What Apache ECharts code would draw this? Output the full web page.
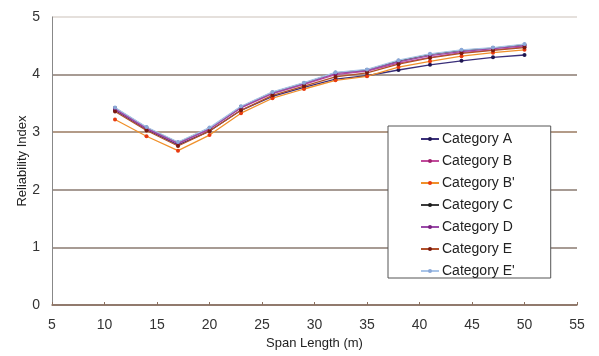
<!DOCTYPE html>
<html><head><meta charset="utf-8">
<script src="https://cdn.jsdelivr.net/npm/echarts@6/dist/echarts.min.js"></script>
<style>html,body{margin:0;padding:0;background:#fff}#c{width:599px;height:356px}</style>
</head><body><div id="c"></div>
<script>
const spans = [11, 14, 17, 20, 23, 26, 29, 32, 35, 38, 41, 44, 47, 50];
const seriesNames = ['Category A', 'Category B', "Category B'", 'Category C', 'Category D', 'Category E', "Category E'"];
const catA  = [3.38, 3.05, 2.78, 3.02, 3.38, 3.62, 3.78, 3.92, 3.98, 4.08, 4.17, 4.24, 4.30, 4.34];
const catB  = [3.40, 3.06, 2.80, 3.05, 3.42, 3.67, 3.83, 4.00, 4.06, 4.20, 4.30, 4.38, 4.43, 4.48];
const catB2 = [3.22, 2.93, 2.68, 2.95, 3.33, 3.59, 3.75, 3.90, 3.97, 4.13, 4.23, 4.32, 4.38, 4.43];
const catC  = [3.42, 3.08, 2.82, 3.07, 3.44, 3.69, 3.85, 4.03, 4.08, 4.24, 4.35, 4.42, 4.46, 4.52];
const catD  = [3.41, 3.07, 2.81, 3.06, 3.43, 3.68, 3.84, 4.02, 4.07, 4.22, 4.33, 4.40, 4.45, 4.50];
const catE  = [3.36, 3.03, 2.76, 3.02, 3.38, 3.64, 3.80, 3.96, 4.03, 4.18, 4.29, 4.37, 4.42, 4.47];
const catE2 = [3.43, 3.09, 2.83, 3.08, 3.45, 3.70, 3.86, 4.04, 4.09, 4.25, 4.36, 4.43, 4.47, 4.53];
const xTicks = [5, 10, 15, 20, 25, 30, 35, 40, 45, 50, 55];
const yTicks = [0, 1, 2, 3, 4, 5];

const values = [catA, catB, catB2, catC, catD, catE, catE2];
const lineColors = ['#3a2f7a', '#c04a9a', '#f0902a', '#3a3a3a', '#9a4aa8', '#b0502a', '#a8c4e8'];
const markColors = ['#1e1650', '#a0206e', '#e83a10', '#1a1a1a', '#7a2080', '#7a1a10', '#8aa8d8'];

const chart = echarts.init(document.getElementById('c'), null, {renderer: 'canvas'});
const font = 'Liberation Sans, Arial, sans-serif';
chart.setOption({
  animation: false,
  backgroundColor: '#fff',
  grid: {left: 52, right: 22, top: 17, bottom: 51},
  legend: {
    orient: 'vertical', left: 388, top: 126,
    data: seriesNames,
    padding: [6, 36, 0, 32],
    itemGap: 8, itemWidth: 18, itemHeight: 5,
    backgroundColor: '#fff', borderColor: '#555', borderWidth: 1,
    textStyle: {fontFamily: font, fontSize: 14, color: '#222', padding: [0, 0, 0, -2]}
  },
  xAxis: {
    type: 'value', min: 5, max: 55, interval: 5,
    name: 'Span Length (m)', nameLocation: 'middle', nameGap: 31,
    nameTextStyle: {fontFamily: font, fontSize: 13, color: '#222'},
    axisLine: {lineStyle: {color: '#8a7060', width: 1.5}},
    axisTick: {inside: true, length: 3, lineStyle: {color: '#8a7060'}},
    axisLabel: {fontFamily: font, fontSize: 14, color: '#333', margin: 13,
      formatter: v => xTicks.includes(v) ? String(v) : ''},
    splitLine: {show: false}
  },
  yAxis: {
    type: 'value', min: 0, max: 5, interval: 1,
    name: 'Reliability Index', nameLocation: 'middle', nameGap: 23, nameMoveOverlap: false,
    nameTextStyle: {fontFamily: font, fontSize: 13, color: '#222'},
    axisLine: {show: true, lineStyle: {color: '#888', width: 1}},
    axisTick: {show: false},
    axisLabel: {fontFamily: font, fontSize: 14, color: '#333', margin: 12,
      formatter: v => yTicks.includes(v) ? String(v) : ''},
    splitLine: {show: true, lineStyle: {color: ['#8a7a70', '#8a7a70', '#8a7a70', '#9a7a60', '#8a7a70', '#ddd6d0'], width: 1.5}}
  },
  series: values.map((vals, i) => ({
    name: seriesNames[i],
    type: 'line',
    data: spans.map((x, j) => [x, vals[j]]),
    symbol: 'circle', symbolSize: 4,
    lineStyle: {color: lineColors[i], width: 1.3},
    itemStyle: {color: markColors[i]},
    z: 2 + i
  }))
});
</script></body></html>
